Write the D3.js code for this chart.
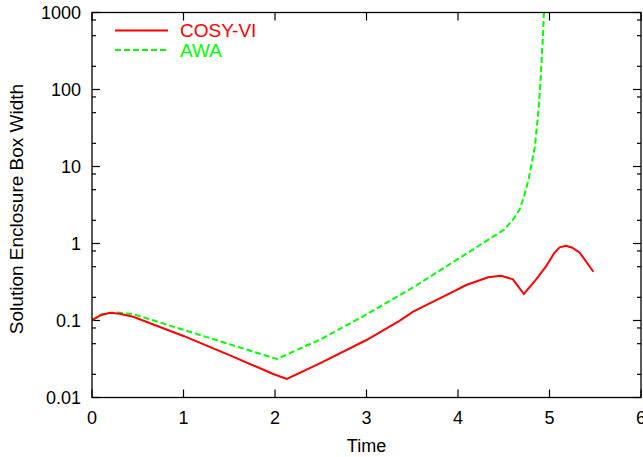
<!DOCTYPE html>
<html>
<head>
<meta charset="utf-8">
<title>Solution Enclosure Box Width</title>
<script src="https://d3js.org/d3.v7.min.js"></script>
<style>
  body { margin: 0; background: #fff; }
  text { font-family: "Liberation Sans", Arial, Helvetica, sans-serif; }
</style>
</head>
<body>
<svg id="chart"></svg>
<script>
// values (time, box width)
let cosyTime  = [0, 0.1, 0.2, 0.3, 0.45, 1.0, 1.54, 1.98, 2.13, 2.49, 3.0, 3.36, 3.51, 3.91, 4.09, 4.33, 4.47, 4.6, 4.72, 4.85, 4.96, 5.05, 5.11, 5.18, 5.25, 5.33, 5.48];
let cosyWidth = [0.101, 0.118, 0.126, 0.122, 0.112, 0.063, 0.034, 0.0202, 0.0174, 0.0278, 0.0558, 0.099, 0.13, 0.225, 0.289, 0.364, 0.382, 0.343, 0.221, 0.336, 0.5, 0.746, 0.893, 0.935, 0.88, 0.76, 0.43];

let awaTime  = [0, 0.1, 0.25, 0.45, 1.0, 1.5, 2.02, 2.5, 3.0, 3.5, 3.8, 4.0, 4.2, 4.38, 4.5, 4.6, 4.67, 4.72, 4.77, 4.84, 4.88, 4.9, 4.93, 4.945];
let awaWidth = [0.1, 0.12, 0.128, 0.121, 0.0757, 0.0493, 0.0316, 0.057, 0.12, 0.265, 0.444, 0.63, 0.89, 1.22, 1.5, 2.02, 2.72, 4.0, 6.7, 18, 54, 120, 537, 1500];

let xTicks = [0, 1, 2, 3, 4, 5, 6];
let yTicks = [0.01, 0.1, 1, 10, 100, 1000];
let yTickLabels = ['0.01', '0.1', '1', '10', '100', '1000'];
let minorSteps = [2, 5, 8];

let seriesNames = ['COSY-VI', 'AWA'];

let config = {
  svg: { width: 643, height: 457 },
  plot: { left: 92, right: 641, top: 12.5, bottom: 397.5 }
};

let svg = d3.select('#chart')
  .attr('width', config.svg.width)
  .attr('height', config.svg.height);

let x = d3.scaleLinear().domain([0, 6]).range([config.plot.left, config.plot.right]);
let y = d3.scaleLog().domain([0.01, 1000]).range([config.plot.bottom, config.plot.top]);

let plotW = config.plot.right - config.plot.left;
let plotH = config.plot.bottom - config.plot.top;

svg.append('clipPath').attr('id', 'clip')
  .append('rect')
  .attr('x', config.plot.left).attr('y', config.plot.top)
  .attr('width', plotW).attr('height', plotH);

// minor log ticks
let minorTicks = [];
yTicks.slice(0, -1).forEach(t => minorSteps.forEach(m => minorTicks.push(t * m)));

// ticks on all four sides
let axes = svg.append('g').attr('stroke', '#000').attr('stroke-width', 1.2);
xTicks.forEach(t => {
  axes.append('line').attr('x1', x(t)).attr('x2', x(t))
    .attr('y1', config.plot.bottom).attr('y2', config.plot.bottom - 8);
  axes.append('line').attr('x1', x(t)).attr('x2', x(t))
    .attr('y1', config.plot.top).attr('y2', config.plot.top + 8);
});
yTicks.forEach(t => {
  axes.append('line').attr('x1', config.plot.left).attr('x2', config.plot.left + 8)
    .attr('y1', y(t)).attr('y2', y(t));
  axes.append('line').attr('x1', config.plot.right).attr('x2', config.plot.right - 8)
    .attr('y1', y(t)).attr('y2', y(t));
});
minorTicks.forEach(t => {
  axes.append('line').attr('x1', config.plot.left).attr('x2', config.plot.left + 4)
    .attr('y1', y(t)).attr('y2', y(t));
  axes.append('line').attr('x1', config.plot.right).attr('x2', config.plot.right - 4)
    .attr('y1', y(t)).attr('y2', y(t));
});

// tick labels
svg.append('g').selectAll('text').data(xTicks).join('text')
  .attr('x', d => x(d)).attr('y', 423.5)
  .attr('text-anchor', 'middle').attr('font-size', 18)
  .text(d => d);

svg.append('g').selectAll('text').data(yTicks).join('text')
  .attr('x', 81).attr('y', d => y(d)).attr('dy', '0.36em')
  .attr('text-anchor', 'end').attr('font-size', 18)
  .text((d, i) => yTickLabels[i]);

// axis titles
svg.append('text').attr('x', (config.plot.left + config.plot.right) / 2).attr('y', 451.5)
  .attr('text-anchor', 'middle').attr('font-size', 18).text('Time');

svg.append('text').attr('transform', 'translate(23,209) rotate(-90)')
  .attr('text-anchor', 'middle').attr('font-size', 19)
  .text('Solution Enclosure Box Width');

// lines
let line = d3.line().x(d => x(d[0])).y(d => y(d[1]));
let cosyPairs = cosyTime.map((t, i) => [t, cosyWidth[i]]);
let awaPairs = awaTime.map((t, i) => [t, awaWidth[i]]);

let lines = svg.append('g').attr('clip-path', 'url(#clip)');
lines.append('path').datum(awaPairs)
  .attr('fill', 'none').attr('stroke', '#00ff00').attr('stroke-width', 2)
  .attr('stroke-dasharray', '6,3').attr('d', line);
lines.append('path').datum(cosyPairs)
  .attr('fill', 'none').attr('stroke', '#ff0000').attr('stroke-width', 2)
  .attr('d', line);

// frame
svg.append('rect')
  .attr('x', config.plot.left).attr('y', config.plot.top)
  .attr('width', plotW).attr('height', plotH)
  .attr('fill', 'none').attr('stroke', '#000').attr('stroke-width', 1.3);

// legend
let legend = svg.append('g');
let legendColors = ['#ff0000', '#00ff00'];
let legendDash = [null, '6,3'];
seriesNames.forEach((name, i) => {
  let ly = 30.5 + i * 19.5;
  legend.append('line').attr('x1', 115).attr('x2', 168).attr('y1', ly).attr('y2', ly)
    .attr('stroke', legendColors[i]).attr('stroke-width', 2)
    .attr('stroke-dasharray', legendDash[i]);
  legend.append('text').attr('x', 180).attr('y', ly).attr('dy', '0.36em')
    .attr('font-size', 19).attr('fill', legendColors[i]).text(name);
});
</script>
</body>
</html>
